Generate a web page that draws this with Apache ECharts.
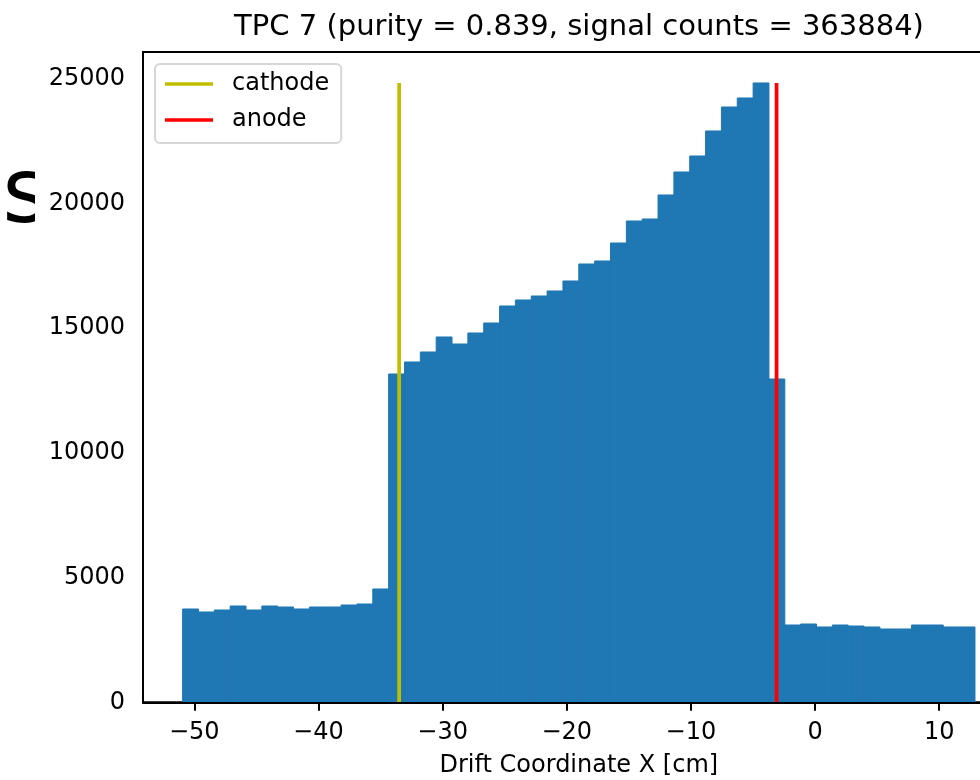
<!DOCTYPE html>
<html>
<head>
<meta charset="utf-8">
<script src="https://cdn.jsdelivr.net/npm/echarts@6/dist/echarts.min.js"></script>
<style>
  html, body { margin: 0; padding: 0; background: #fff; }
  #chart { width: 980px; height: 780px; }
</style>
</head>
<body>
<div id="chart"></div>
<script>
// Drift-coordinate histogram for TPC 7 with cathode / anode positions.
const FONT = 'DejaVu Sans';

// Histogram: equal-width bins between binLow and binHigh.
const binLow = -50.94;
const binHigh = 12.88;
const counts = [
  3741, 3621, 3701, 3861, 3701, 3861, 3821, 3741, 3821, 3821,
  3901, 3941, 4543, 13163, 13645, 14046, 14647, 14366, 14807, 15208,
  15890, 16131, 16291, 16492, 16892, 17574, 17694, 18416, 19298, 19378,
  20341, 21263, 21905, 22907, 23869, 24230, 24832, 12963, 3099, 3140,
  3020, 3099, 3059, 3020, 2939, 2939, 3099, 3099, 3020, 3020
];

// Electrode positions [cm]
const cathodeX = -33.5;
const anodeX = -3.1;

// Tick labels
const xTicks = [-50, -40, -30, -20, -10, 0, 10];
const yTicks = [0, 5000, 10000, 15000, 20000, 25000];

const titleText = 'TPC 7 (purity = 0.839, signal counts = 363884)';
const xLabel = 'Drift Coordinate X [cm]';

const nBins = counts.length;
const binWidth = (binHigh - binLow) / nBins;
const bins = counts.map((c, i) => [binLow + i * binWidth, binLow + (i + 1) * binWidth, c]);
const peak = Math.max(...counts);

// axis limits with 5% margins
const span = binHigh - binLow;
const xMin = binLow - 0.05 * span;
const xMax = binHigh + 0.05 * span;
const yMax = peak * 1.05;

const chart = echarts.init(document.getElementById('chart'));

const fmtTick = v => (v < 0 ? '\u2212' + Math.abs(v) : String(v));

// vertical marker from y = 0 up to y = value(1) at x = value(0)
const vline = (color) => (params, api) => {
  const a = api.coord([api.value(0), 0]);
  const b = api.coord([api.value(0), api.value(1)]);
  return {
    type: 'line',
    shape: { x1: a[0], y1: a[1], x2: b[0], y2: b[1] },
    style: { stroke: color, lineWidth: 3.7 }
  };
};

chart.setOption({
  animation: false,
  backgroundColor: '#ffffff',
  textStyle: { fontFamily: FONT },
  grid: {
    left: 143, top: 52, width: 871.6, height: 650.3,
    outerBoundsMode: 'none',
    show: true, borderColor: '#000', borderWidth: 2
  },
  xAxis: {
    type: 'value', min: xMin, max: xMax, z: 4,
    name: xLabel, nameLocation: 'middle', nameGap: 51,
    nameTextStyle: { fontFamily: FONT, fontSize: 24, color: '#000' },
    axisLine: { show: true, onZero: false, lineStyle: { color: '#000', width: 2 } },
    axisTick: { show: true, customValues: xTicks, length: 8.5, lineStyle: { color: '#000', width: 2 } },
    axisLabel: { customValues: xTicks, formatter: fmtTick, margin: 18, fontFamily: FONT, fontSize: 24, color: '#000' },
    splitLine: { show: false }
  },
  yAxis: {
    type: 'value', min: 0, max: yMax,
    axisLine: { show: false },
    axisTick: { show: false },
    axisLabel: { customValues: yTicks, formatter: v => String(v), margin: 18, fontFamily: FONT, fontSize: 24, color: '#000' },
    splitLine: { show: false }
  },
  legend: {
    orient: 'vertical', left: 155, top: 64,
    data: [{ name: 'cathode', icon: 'rect' }, { name: 'anode', icon: 'rect' }],
    itemWidth: 48, itemHeight: 3.7, itemGap: 10,
    padding: [7, 12, 10, 10],
    backgroundColor: 'rgba(255,255,255,0.8)',
    borderColor: '#d6d6d6', borderWidth: 2, borderRadius: 5,
    textStyle: { fontFamily: FONT, fontSize: 24, color: '#000', lineHeight: 26, padding: [0, 0, 0, 14] }
  },
  graphic: [
    {
      type: 'text', x: -53, y: 199,
      style: { text: 'es', fontFamily: FONT, fontSize: 90, fill: '#000', textAlign: 'left', textVerticalAlign: 'middle' }
    },
    {
      type: 'rect', shape: { x: 35, y: 150, width: 11, height: 90 },
      style: { fill: '#ffffff' }
    },
    {
      type: 'text', x: 579, y: 27.5,
      style: { text: titleText, fontFamily: FONT, fontSize: 29, fill: '#000', textAlign: 'center', textVerticalAlign: 'middle' }
    }
  ],
  series: [
    {
      type: 'custom', name: 'hist', data: bins, z: 1,
      encode: { x: [0, 1], y: 2 },
      renderItem: (params, api) => {
        const p0 = api.coord([api.value(0), 0]);
        const p1 = api.coord([api.value(1), api.value(2)]);
        return {
          type: 'rect',
          shape: { x: p0[0], y: p1[1], width: p1[0] - p0[0], height: p0[1] - p1[1] },
          style: { fill: '#1f77b4', stroke: '#1f77b4', lineWidth: 1 }
        };
      }
    },
    {
      type: 'custom', name: 'cathode', z: 3,
      data: [[cathodeX, peak]], encode: { x: 0, y: 1 },
      itemStyle: { color: '#bfbf00' },
      renderItem: vline('#bfbf00')
    },
    {
      type: 'custom', name: 'anode', z: 3,
      data: [[anodeX, peak]], encode: { x: 0, y: 1 },
      itemStyle: { color: '#ff0000' },
      renderItem: vline('#ff0000')
    }
  ]
});
</script>
</body>
</html>
